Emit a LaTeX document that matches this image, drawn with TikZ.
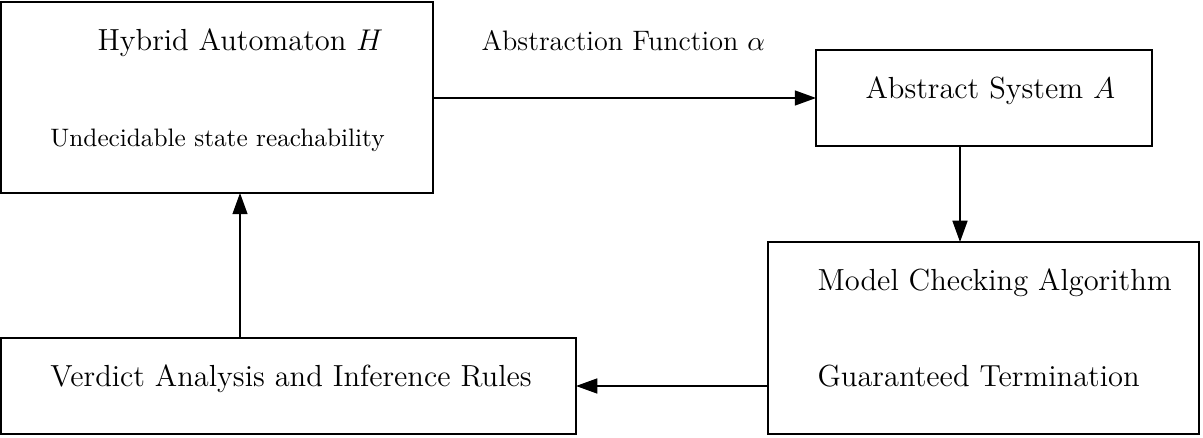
\documentclass[tikz,border=0pt]{standalone}
\usetikzlibrary{arrows.meta}
\begin{document}
\begin{tikzpicture}[x=0.4pt,y=-0.4pt,
  box/.style={draw, line width=0.6pt, inner sep=0pt, outer sep=0pt},
  lbl/.style={anchor=base west, inner sep=0pt, font=\fontsize{12.2}{14}\selectfont},
  flbl/.style={anchor=base west, inner sep=0pt, font=\fontsize{11.25}{13}\selectfont},
  small/.style={anchor=base west, inner sep=0pt, font=\fontsize{10.1}{12}\selectfont},
  conn/.style={line width=0.6pt, -{Triangle[length=8.5pt,width=6pt]}}]
\useasboundingbox (0,0) rectangle (1203,438);
\node[box, minimum width=172.8pt, minimum height=76.4pt] (H) at (217,97.5) {};
\node[box, minimum width=134.4pt, minimum height=38.4pt] (A) at (984,98) {};
\node[box, minimum width=172.4pt, minimum height=76.8pt] (MC) at (983.5,338) {};
\node[box, minimum width=230pt, minimum height=38.4pt] (V) at (288.5,386) {};
\node[lbl] (th) at (97,51) {Hybrid Automaton $H$};
\node[small] (tu) at (50,147) {Undecidable state reachability};
\node[flbl] (tf) at (481,51) {Abstraction Function $\alpha$};
\node[lbl] (ta) at (865,99) {Abstract System $A$};
\node[lbl] (tm) at (817,291) {Model Checking Algorithm};
\node[lbl] (tg) at (817,386) {Guaranteed Termination};
\node[lbl] (tv) at (50,386) {Verdict Analysis and Inference Rules};
\coordinate (ax) at (960,0);
\coordinate (vx) at (240,0);
\draw[conn] (A.west -| H.east) -- (A.west);
\draw[conn] (A.south -| ax) -- (MC.north -| ax);
\draw[conn] (V.east -| MC.west) -- (V.east);
\draw[conn] (V.north -| vx) -- (H.south -| vx);
\end{tikzpicture}
\end{document}
